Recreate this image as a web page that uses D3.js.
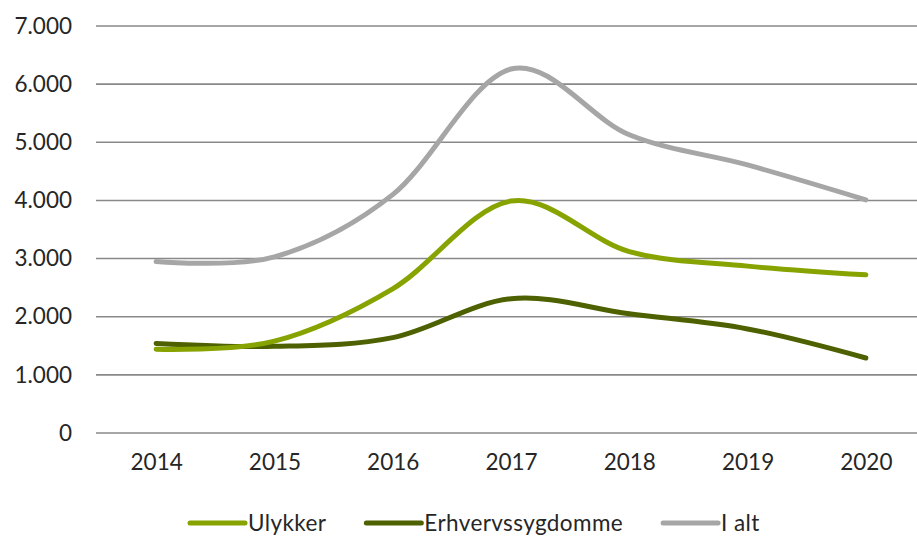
<!DOCTYPE html>
<html>
<head>
<meta charset="utf-8">
<script src="https://cdn.jsdelivr.net/npm/d3@7"></script>
<style>
  body { margin: 0; background: #fff; }
  text { font-family: Lato, "Open Sans", sans-serif; fill: #262626; }
</style>
</head>
<body>
<div id="chart"></div>
<script>
// data
var years = ["2014", "2015", "2016", "2017", "2018", "2019", "2020"];
var ulykker = [1440, 1580, 2480, 3990, 3120, 2870, 2720];
var erhverv = [1540, 1490, 1640, 2310, 2050, 1790, 1290];
var ialt = [2950, 3030, 4100, 6260, 5130, 4610, 4010];
var seriesNames = ["Ulykker", "Erhvervssygdomme", "I alt"];
var seriesColors = ["#86a300", "#4e6100", "#a6a6a6"];
var yTicks = [0, 1000, 2000, 3000, 4000, 5000, 6000, 7000];

var width = 917, height = 537;
var plotTop = 26, plotBottom = 433, plotLeft = 96;

var svg = d3.select("#chart").append("svg")
  .attr("width", width)
  .attr("height", height);

var x = d3.scalePoint().domain(years).range([97, 925]).padding(0.5);
var y = d3.scaleLinear().domain([0, 7000]).range([plotBottom, plotTop]);

/* gridlines */
svg.append("g").selectAll("line")
  .data(yTicks).enter()
  .append("line")
  .attr("x1", plotLeft).attr("x2", width)
  .attr("y1", d => y(d)).attr("y2", d => y(d))
  .style("stroke", "#898989")
  .style("stroke-width", 1.6);

/* y axis labels */
var yAxis = d3.axisLeft(y).tickValues(yTicks).tickSize(0).tickPadding(0)
  .tickFormat(d => d3.format(",")(d).replace(/,/g, "."));
svg.append("g")
  .attr("transform", "translate(72,0)")
  .call(yAxis)
  .call(g => g.select(".domain").remove())
  .selectAll("text")
  .style("font-size", "22.5px")
  .style("fill", "#262626");

/* x axis labels */
var xAxis = d3.axisBottom(x).tickSize(0).tickPadding(0);
svg.append("g")
  .attr("transform", "translate(0,454)")
  .call(xAxis)
  .call(g => g.select(".domain").remove())
  .selectAll("text")
  .style("font-size", "22.5px")
  .style("fill", "#262626");

/* lines */
var data = [ulykker, erhverv, ialt].map((vals, i) => ({
  name: seriesNames[i],
  color: seriesColors[i],
  values: vals.map((v, j) => ({ year: years[j], value: v }))
}));

var line = d3.line()
  .x(d => x(d.year))
  .y(d => y(d.value))
  .curve(d3.curveCardinal.tension(0));

svg.append("g").selectAll("path")
  .data(data.slice().reverse()).enter()
  .append("path")
  .attr("d", d => line(d.values))
  .style("fill", "none")
  .style("stroke", d => d.color)
  .style("stroke-width", 5)
  .style("stroke-linecap", "round");

/* legend */
var legend = svg.append("g").attr("class", "legend");
var lx = 190, ly = 523;
data.forEach(function(d) {
  legend.append("line")
    .attr("x1", lx).attr("x2", lx + 55)
    .attr("y1", ly).attr("y2", ly)
    .style("stroke", d.color)
    .style("stroke-width", 5)
    .style("stroke-linecap", "round");
  var t = legend.append("text")
    .attr("x", lx + 58)
    .attr("y", ly)
    .attr("dy", "0.35em")
    .style("font-size", "22.5px")
    .style("letter-spacing", "0.4px")
    .text(d.name);
  lx += 58 + t.node().getComputedTextLength() + 40;
});
</script>
</body>
</html>
